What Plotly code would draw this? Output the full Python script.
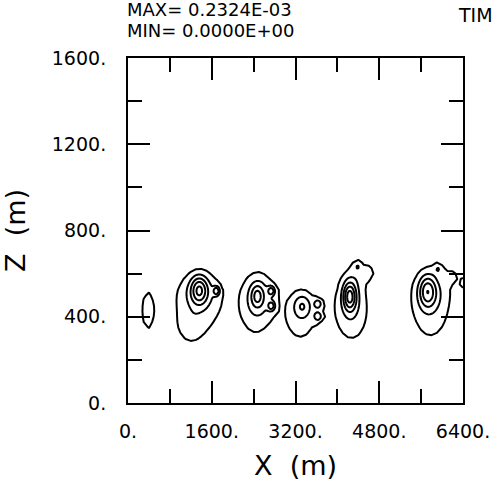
import numpy as np
import plotly.graph_objects as go

# ---- data: blobs (x [m], z [m], amplitude [1e-4], sigma x [m], sigma z [m])
blob_x   = [376,
            1330, 1390, 1360, 1180, 1690,
            2430, 2520, 2470, 2740, 2740,
            3290, 3330, 3630, 3630,
            4280, 4250, 4235, 4480, 4386, 4612,
            5780, 5780, 5720, 5930, 6155, 6450]
blob_z   = [430,
            430, 520, 525, 350, 520,
            440, 500, 497, 520, 450,
            400, 450, 460, 402,
            415, 500, 495, 600, 638, 606,
            425, 520, 518, 625, 587, 560]
blob_amp = [0.5,
            0.55, 0.55, 1.2, 0.3, 1.0,
            0.55, 0.6, 0.75, 0.95, 0.95,
            0.55, 0.75, 0.8, 0.8,
            0.55, 0.5, 1.3, 0.3, 0.45, 0.45,
            0.55, 0.5, 1.1, 0.5, 0.5, 0.4]
blob_sx  = [140,
            400, 260, 110, 150, 45,
            250, 200, 80, 50, 50,
            290, 120, 55, 55,
            300, 150, 85, 150, 65, 65,
            330, 220, 110, 65, 65, 150]
blob_sz  = [110,
            120, 60, 45, 50, 15,
            120, 70, 35, 16, 16,
            115, 38, 16, 16,
            130, 80, 45, 40, 20, 20,
            135, 70, 50, 20, 20, 50]

# contour levels (units of 1e-4)
outer_level = 0.4
inner_levels = (0.8, 2.0, 0.4)   # start, end, step

def make_field(dx, dz):
    xg = np.arange(0, 6400.1, dx)
    zg = np.arange(0, 1600.1, dz)
    X, Z = np.meshgrid(xg, zg)
    f = np.zeros_like(X)
    for bx, bz, ba, sx, sz in zip(blob_x, blob_z, blob_amp, blob_sx, blob_sz):
        f += ba * np.exp(-((X - bx) ** 2 / (2 * sx ** 2) + (Z - bz) ** 2 / (2 * sz ** 2)))
    return xg, zg, f * 1e-4

xc, zc, fc = make_field(100.0, 25.0)    # coarse model grid for the outer contour
xf, zf, ff = make_field(25.0, 6.25)     # fine grid for the inner contours

max_text = "MAX= 0.2324E-03"
min_text = "MIN= 0.0000E+00"
time_text = "TIM"

black = [[0, "black"], [1, "black"]]
fig = go.Figure()
fig.add_trace(go.Contour(
    x=xc, y=zc, z=fc,
    contours=dict(coloring="lines", start=outer_level * 1e-4, end=outer_level * 1e-4,
                  size=0.4e-4, showlabels=False),
    line=dict(width=2, smoothing=0), colorscale=black, showscale=False, hoverinfo="skip",
))
fig.add_trace(go.Contour(
    x=xf, y=zf, z=ff,
    contours=dict(coloring="lines", start=inner_levels[0] * 1e-4, end=inner_levels[1] * 1e-4,
                  size=inner_levels[2] * 1e-4, showlabels=False),
    line=dict(width=2, smoothing=0), colorscale=black, showscale=False, hoverinfo="skip",
))

font = "DejaVu Sans"
axis_common = dict(
    ticks="inside", ticklen=22, tickwidth=2, tickcolor="black",
    showline=True, linewidth=2, linecolor="black", mirror="ticks",
    showgrid=False, zeroline=False, ticksuffix=".",
    tickfont=dict(family=font, size=19, color="black"),
)
fig.update_layout(
    width=502, height=488,
    margin=dict(l=128, r=34, t=58, b=84),
    paper_bgcolor="white", plot_bgcolor="white",
    xaxis=dict(range=[0, 6400], tick0=0, dtick=1600,
               minor=dict(dtick=800, tick0=0, ticks="inside", ticklen=14, tickwidth=2, tickcolor="black"),
               title=dict(text="X  (m)", font=dict(family=font, size=27, color="black"), standoff=15),
               ticklabelstandoff=10, **axis_common),
    yaxis=dict(range=[0, 1600], tick0=0, dtick=400,
               minor=dict(dtick=200, tick0=0, ticks="inside", ticklen=14, tickwidth=2, tickcolor="black"),
               title=dict(text="Z  (m)", font=dict(family=font, size=27, color="black"), standoff=19),
               ticklabelstandoff=16, **axis_common),
    showlegend=False,
    annotations=[
        dict(text=max_text, xref="paper", yref="paper", x=-0.01, y=1.1416, xanchor="left", yanchor="middle",
             showarrow=False, font=dict(family=font, size=18, color="black")),
        dict(text=min_text, xref="paper", yref="paper", x=-0.01, y=1.081, xanchor="left", yanchor="middle",
             showarrow=False, font=dict(family=font, size=18, color="black")),
        dict(text=time_text, xref="paper", yref="paper", x=0.978, y=1.124, xanchor="left", yanchor="middle",
             showarrow=False, font=dict(family=font, size=19, color="black")),
    ],
)
fig.write_html("out.html", config={"displayModeBar": False},
               post_script="document.body.style.margin='0px';")
